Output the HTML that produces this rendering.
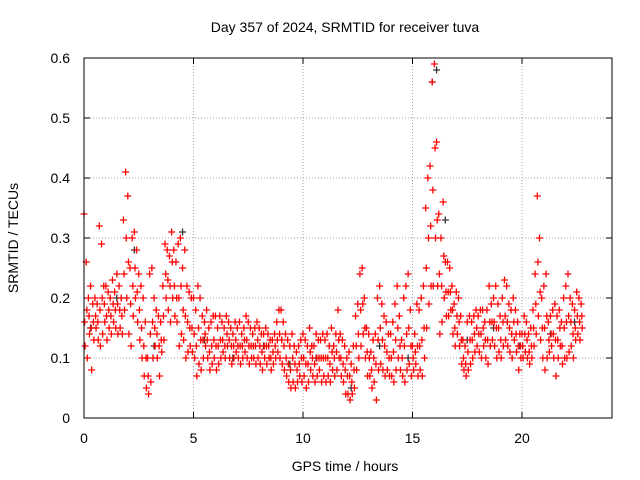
<!DOCTYPE html>
<html><head><meta charset="utf-8"><style>
body{margin:0;background:#fff}
svg{display:block;font-family:"Liberation Sans",sans-serif}
</style></head><body>
<svg id="chart" width="640" height="480" xmlns="http://www.w3.org/2000/svg">
<rect width="640" height="480" fill="#fff"/>
<text x="345" y="32" font-size="14" text-anchor="middle">Day 357 of 2024, SRMTID for receiver tuva</text>
<text x="345" y="471" font-size="14" text-anchor="middle">GPS time / hours</text>
<text transform="translate(18,238) rotate(-90)" font-size="14" text-anchor="middle">SRMTID / TECUs</text>
<g id="grid"></g><g id="ticks"></g><g id="marks"></g>
<rect x="84" y="58" width="528" height="360" fill="none" stroke="#000" stroke-width="1"/>
</svg>
<script>
const xTicks=[0,5,10,15,20];
const yTicks=[0,0.1,0.2,0.3,0.4,0.5,0.6];
const yTickLabels=["0","0.1","0.2","0.3","0.4","0.5","0.6"];
const step=0.1;
const hiVals=[0.34,0.26,0.2,0.22,0.19,0.2,0.19,0.32,0.29,0.22,
0.22,0.21,0.2,0.23,0.21,0.24,0.22,0.2,0.33,0.41,
0.37,0.25,0.3,0.31,0.28,0.24,0.22,0.2,0.16,0.1,
0.24,0.25,0.2,0.18,0.17,0.16,0.22,0.29,0.28,0.27,
0.31,0.28,0.26,0.29,0.3,0.25,0.28,0.22,0.21,0.2,
0.2,0.18,0.22,0.2,0.17,0.16,0.18,0.15,0.16,0.17,
0.17,0.15,0.17,0.16,0.15,0.17,0.16,0.15,0.14,0.16,
0.15,0.16,0.14,0.15,0.17,0.16,0.15,0.14,0.15,0.16,
0.15,0.14,0.14,0.15,0.14,0.13,0.13,0.14,0.16,0.18,
0.18,0.16,0.14,0.13,0.12,0.14,0.12,0.11,0.12,0.13,
0.14,0.13,0.12,0.15,0.12,0.12,0.14,0.13,0.13,0.14,
0.13,0.14,0.12,0.15,0.12,0.14,0.18,0.14,0.13,0.12,
0.1,0.11,0.09,0.12,0.17,0.19,0.24,0.25,0.2,0.15,
0.14,0.11,0.13,0.14,0.2,0.22,0.19,0.17,0.16,0.14,
0.14,0.16,0.19,0.22,0.17,0.13,0.2,0.22,0.24,0.18,
0.12,0.14,0.19,0.18,0.2,0.22,0.35,0.4,0.42,0.56,
0.59,0.46,0.34,0.3,0.36,0.26,0.26,0.25,0.22,0.19,
0.21,0.2,0.17,0.13,0.12,0.16,0.17,0.16,0.17,0.18,
0.17,0.18,0.18,0.16,0.18,0.22,0.19,0.2,0.22,0.19,
0.17,0.2,0.23,0.22,0.19,0.18,0.2,0.18,0.16,0.14,
0.14,0.17,0.16,0.14,0.15,0.18,0.24,0.37,0.3,0.2,
0.22,0.24,0.16,0.17,0.18,0.19,0.17,0.18,0.16,0.2,
0.22,0.24,0.2,0.19,0.18,0.21,0.2,0.19];
const loVals=[0.12,0.1,0.14,0.08,0.13,0.15,0.13,0.12,0.14,0.16,
0.13,0.15,0.14,0.16,0.15,0.14,0.15,0.14,0.18,0.2,
0.14,0.12,0.17,0.2,0.16,0.13,0.1,0.07,0.05,0.04,
0.06,0.1,0.12,0.1,0.07,0.11,0.13,0.2,0.18,0.16,
0.2,0.17,0.16,0.12,0.14,0.13,0.1,0.11,0.12,0.11,
0.1,0.07,0.09,0.08,0.1,0.12,0.1,0.08,0.09,0.1,
0.08,0.09,0.1,0.11,0.1,0.12,0.1,0.09,0.1,0.11,
0.1,0.09,0.1,0.11,0.1,0.09,0.1,0.1,0.09,0.1,
0.09,0.08,0.1,0.09,0.1,0.08,0.09,0.1,0.11,0.1,
0.09,0.08,0.07,0.06,0.05,0.06,0.05,0.06,0.07,0.06,
0.07,0.05,0.06,0.08,0.07,0.06,0.07,0.08,0.06,0.07,
0.06,0.07,0.06,0.08,0.07,0.08,0.1,0.07,0.06,0.04,
0.04,0.03,0.04,0.05,0.08,0.1,0.12,0.14,0.1,0.07,
0.07,0.05,0.06,0.03,0.08,0.09,0.08,0.07,0.08,0.07,
0.07,0.06,0.08,0.1,0.08,0.07,0.06,0.08,0.09,0.07,
0.08,0.09,0.07,0.08,0.07,0.1,0.15,0.19,0.22,0.22,
0.3,0.22,0.14,0.16,0.2,0.17,0.17,0.18,0.14,0.12,
0.14,0.12,0.09,0.08,0.07,0.08,0.09,0.1,0.11,0.12,
0.11,0.1,0.12,0.1,0.09,0.12,0.13,0.12,0.1,0.11,
0.1,0.12,0.13,0.12,0.11,0.1,0.13,0.11,0.08,0.1,
0.1,0.11,0.1,0.09,0.1,0.12,0.14,0.17,0.13,0.1,
0.08,0.1,0.11,0.12,0.1,0.07,0.1,0.12,0.09,0.1,
0.1,0.11,0.12,0.1,0.13,0.14,0.13,0.15];
const midVals=[0.16,0.18,0.17,0.15,0.16,0.17,0.16,0.18,0.2,0.19,
0.17,0.18,0.17,0.19,0.18,0.19,0.18,0.17,0.24,0.3,
0.26,0.19,0.22,0.25,0.21,0.18,0.15,0.12,0.1,0.07,
0.14,0.16,0.15,0.14,0.12,0.13,0.17,0.24,0.23,0.22,
0.26,0.22,0.2,0.2,0.22,0.18,0.17,0.16,0.15,0.15,
0.14,0.12,0.15,0.13,0.13,0.14,0.13,0.11,0.12,0.13,
0.12,0.12,0.13,0.13,0.12,0.14,0.13,0.12,0.12,0.13,
0.12,0.12,0.12,0.13,0.13,0.12,0.12,0.12,0.12,0.13,
0.12,0.11,0.12,0.12,0.12,0.1,0.11,0.12,0.13,0.14,
0.13,0.12,0.1,0.09,0.08,0.1,0.09,0.08,0.09,0.1,
0.1,0.09,0.09,0.11,0.1,0.09,0.1,0.1,0.1,0.1,
0.1,0.1,0.09,0.11,0.1,0.11,0.13,0.1,0.09,0.08,
0.07,0.07,0.06,0.08,0.12,0.14,0.18,0.19,0.15,0.11,
0.1,0.08,0.1,0.09,0.13,0.15,0.13,0.12,0.11,0.1,
0.1,0.11,0.13,0.15,0.12,0.1,0.12,0.14,0.15,0.12,
0.1,0.11,0.12,0.12,0.13,0.15,0.25,0.3,0.32,0.38,
0.45,0.33,0.24,0.22,0.27,0.21,0.21,0.21,0.18,0.15,
0.17,0.16,0.13,0.1,0.09,0.11,0.13,0.13,0.14,0.15,
0.14,0.14,0.15,0.13,0.13,0.16,0.16,0.16,0.15,0.15,
0.13,0.16,0.17,0.16,0.15,0.14,0.16,0.14,0.12,0.12,
0.12,0.14,0.13,0.11,0.12,0.15,0.19,0.26,0.21,0.15,
0.15,0.17,0.13,0.14,0.14,0.13,0.13,0.15,0.12,0.15,
0.16,0.17,0.16,0.14,0.15,0.17,0.16,0.17];
const blackHours=[0.3,1.5,2.3,3.2,4.5,5.5,6.8,8.2,9.4,10.6,12.2,13.5,14.8,15.9,16.1,16.5,17.5,18.7,19.9,21.3,22.4];
const blackVals=[0.15,0.2,0.28,0.12,0.31,0.13,0.1,0.12,0.09,0.1,0.05,0.12,0.1,0.56,0.58,0.33,0.13,0.15,0.12,0.14,0.16];
const NS="http://www.w3.org/2000/svg";
const X0=84,X1=612,XMAX=24.11,Y0=418,Y1=58,YMAX=0.6;
function sx(h){return X0+h/XMAX*(X1-X0);}
function sy(v){return Y0-v/YMAX*(Y0-Y1);}
const grid=document.getElementById('grid'),ticks=document.getElementById('ticks'),marks=document.getElementById('marks');
function mk(tag,attrs,parent){const e=document.createElementNS(NS,tag);for(const k in attrs)e.setAttribute(k,attrs[k]);parent.appendChild(e);return e;}
xTicks.forEach(t=>{
 const x=sx(t);
 if(t>0){const g=mk('line',{x1:x,x2:x,y1:Y0,y2:Y1,stroke:'#a0a0a0','stroke-dasharray':'1,2'},grid);
 
 }
 mk('line',{x1:x,x2:x,y1:Y0,y2:Y0-6,stroke:'#000'},ticks);
 mk('line',{x1:x,x2:x,y1:Y1,y2:Y1+6,stroke:'#000'},ticks);
 const l=mk('text',{x:x,y:443,'font-size':14,'text-anchor':'middle'},ticks);l.textContent=t;
 
 
});
yTicks.forEach((t,i)=>{
 const y=sy(t);
 if(t>0&&t<YMAX){const g=mk('line',{x1:X0,x2:X1,y1:y,y2:y,stroke:'#a0a0a0','stroke-dasharray':'1,2'},grid);
 
 }
 mk('line',{x1:X0,x2:X0+6,y1:y,y2:y,stroke:'#000'},ticks);
 mk('line',{x1:X1,x2:X1-6,y1:y,y2:y,stroke:'#000'},ticks);
 const l=mk('text',{x:70,y:y+5,'font-size':14,'text-anchor':'end'},ticks);l.textContent=yTickLabels[i];
 
 
});
function plus(h,v,col,name){
 const x=sx(h),y=sy(v);
 const p=mk('path',{d:`M${x-3.5},${y}H${x+3.5}M${x},${y-3.5}V${y+3.5}`,stroke:col,'stroke-width':1.3,fill:'none'},marks);
 
 
}
blackHours.forEach((h,i)=>plus(h,blackVals[i],'#303030','black-point'));
hiVals.forEach((v,i)=>plus(i*step,v,'#ff0000','red-point'));
loVals.forEach((v,i)=>plus(i*step+0.05,v,'#ff0000','red-point'));
midVals.forEach((v,i)=>plus(i*step+0.03,v,'#ff0000','red-point'));
</script>
</body></html>
